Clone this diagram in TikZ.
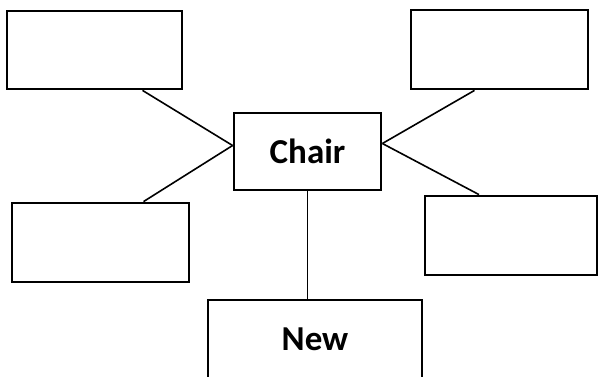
\documentclass[tikz,border=0pt]{standalone}
\usepackage{fontspec}
\setmainfont{Carlito}
\tikzset{
	box/.style={draw, line width=2.8pt, inner sep=0pt, font=\fontsize{35}{42}\selectfont\bfseries},
	link/.style={line width=1.6pt}
}
\begin{document}
\begin{tikzpicture}[x=1pt,y=-1pt]
	\useasboundingbox (0,0) rectangle (598,376);
	\node[box, minimum width=175pt, minimum height=78pt] (tl) at (94.5,50) {};
	\node[box, minimum width=177pt, minimum height=79pt] (tr) at (499.5,49.5) {};
	\node[box, minimum width=177pt, minimum height=79pt] (bl) at (100.5,242.5) {};
	\node[box, minimum width=172pt, minimum height=79pt] (br) at (511,235.5) {};
	\node[box, minimum width=147pt, minimum height=77pt] (chair) at (307.5,151.5) {Chair};
	\node[box, minimum width=214pt, minimum height=78pt] (new) at (315,339) {New};
	\draw[link] ([xshift=48pt]tl.south) -- ([yshift=6pt]chair.west);
	\draw[link] ([xshift=43pt]bl.north) -- ([yshift=6pt]chair.west);
	\draw[link] ([xshift=-25pt]tr.south) -- ([yshift=8pt]chair.east);
	\draw[link] ([xshift=-32pt]br.north) -- ([yshift=8pt]chair.east);
	\draw[link] (chair.south) -- (chair.south |- new.north);
\end{tikzpicture}
\end{document}
